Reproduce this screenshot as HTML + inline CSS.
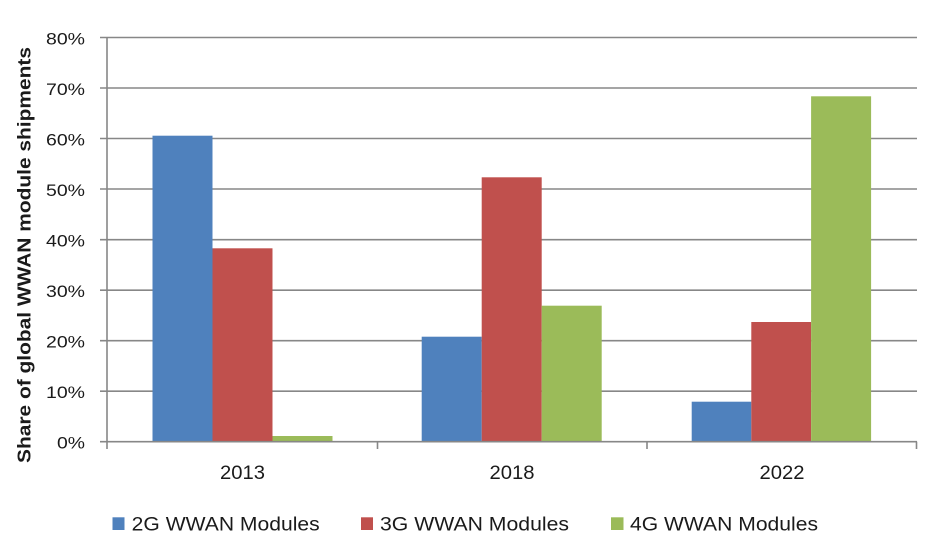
<!DOCTYPE html>
<html><head><meta charset="utf-8"><style>
html,body{margin:0;padding:0;background:#fff;}
svg{display:block;}
text{font-family:"Liberation Sans",Arial,sans-serif;fill:#1a1a1a;}
</style></head><body>
<svg width="929" height="542" viewBox="0 0 929 542" xmlns="http://www.w3.org/2000/svg">
<rect width="929" height="542" fill="#fff"/>
<g stroke="#878787" stroke-width="1.6">
<line x1="100" y1="37.5" x2="917" y2="37.5"/>
<line x1="100" y1="88" x2="917" y2="88"/>
<line x1="100" y1="138.5" x2="917" y2="138.5"/>
<line x1="100" y1="189" x2="917" y2="189"/>
<line x1="100" y1="239.7" x2="917" y2="239.7"/>
<line x1="100" y1="290.2" x2="917" y2="290.2"/>
<line x1="100" y1="340.7" x2="917" y2="340.7"/>
<line x1="100" y1="391.2" x2="917" y2="391.2"/>
</g>
<!-- bars 2013 -->
<rect x="152.5" y="135.7" width="60" height="306" fill="#4F81BD"/>
<rect x="212.5" y="248.3" width="60" height="193.4" fill="#C0504D"/>
<rect x="272.5" y="436" width="60" height="5.7" fill="#9BBB59"/>
<!-- 2018 -->
<rect x="421.7" y="336.7" width="60" height="105" fill="#4F81BD"/>
<rect x="481.7" y="177.3" width="60" height="264.4" fill="#C0504D"/>
<rect x="541.7" y="305.7" width="60" height="136" fill="#9BBB59"/>
<!-- 2022 -->
<rect x="691.7" y="401.7" width="59.6" height="40" fill="#4F81BD"/>
<rect x="751.3" y="322" width="59.8" height="119.7" fill="#C0504D"/>
<rect x="811.1" y="96.3" width="60" height="345.4" fill="#9BBB59"/>
<g stroke="#878787" stroke-width="1.6">
<line x1="100" y1="441.7" x2="917" y2="441.7"/>
<line x1="107" y1="37" x2="107" y2="449"/>
<line x1="377.5" y1="441.7" x2="377.5" y2="449"/>
<line x1="647" y1="441.7" x2="647" y2="449"/>
<line x1="916.5" y1="441.7" x2="916.5" y2="449"/>
</g>
<g font-size="17" text-anchor="end">
<text x="85" y="44.5" textLength="39" lengthAdjust="spacingAndGlyphs">80%</text>
<text x="85" y="95" textLength="39" lengthAdjust="spacingAndGlyphs">70%</text>
<text x="85" y="145.5" textLength="39" lengthAdjust="spacingAndGlyphs">60%</text>
<text x="85" y="196" textLength="39" lengthAdjust="spacingAndGlyphs">50%</text>
<text x="85" y="246.7" textLength="39" lengthAdjust="spacingAndGlyphs">40%</text>
<text x="85" y="297.2" textLength="39" lengthAdjust="spacingAndGlyphs">30%</text>
<text x="85" y="347.7" textLength="39" lengthAdjust="spacingAndGlyphs">20%</text>
<text x="85" y="398.2" textLength="39" lengthAdjust="spacingAndGlyphs">10%</text>
<text x="85" y="448.5" textLength="28" lengthAdjust="spacingAndGlyphs">0%</text>
</g>
<g font-size="19" text-anchor="middle">
<text x="242.5" y="479" textLength="45" lengthAdjust="spacingAndGlyphs">2013</text>
<text x="512" y="479" textLength="45" lengthAdjust="spacingAndGlyphs">2018</text>
<text x="782" y="479" textLength="45" lengthAdjust="spacingAndGlyphs">2022</text>
</g>
<text transform="translate(30.5,463) rotate(-90)" font-size="18" font-weight="bold" textLength="416" lengthAdjust="spacingAndGlyphs">Share of global WWAN module shipments</text>
<rect x="112.5" y="517.3" width="12" height="12.7" fill="#4F81BD"/>
<rect x="361" y="517.3" width="12" height="12.7" fill="#C0504D"/>
<rect x="611" y="517.3" width="12.5" height="12.7" fill="#9BBB59"/>
<g font-size="19">
<text x="131.7" y="530.5" textLength="188" lengthAdjust="spacingAndGlyphs">2G WWAN Modules</text>
<text x="380" y="530.5" textLength="189" lengthAdjust="spacingAndGlyphs">3G WWAN Modules</text>
<text x="630" y="530.5" textLength="188" lengthAdjust="spacingAndGlyphs">4G WWAN Modules</text>
</g>
</svg>
</body></html>
